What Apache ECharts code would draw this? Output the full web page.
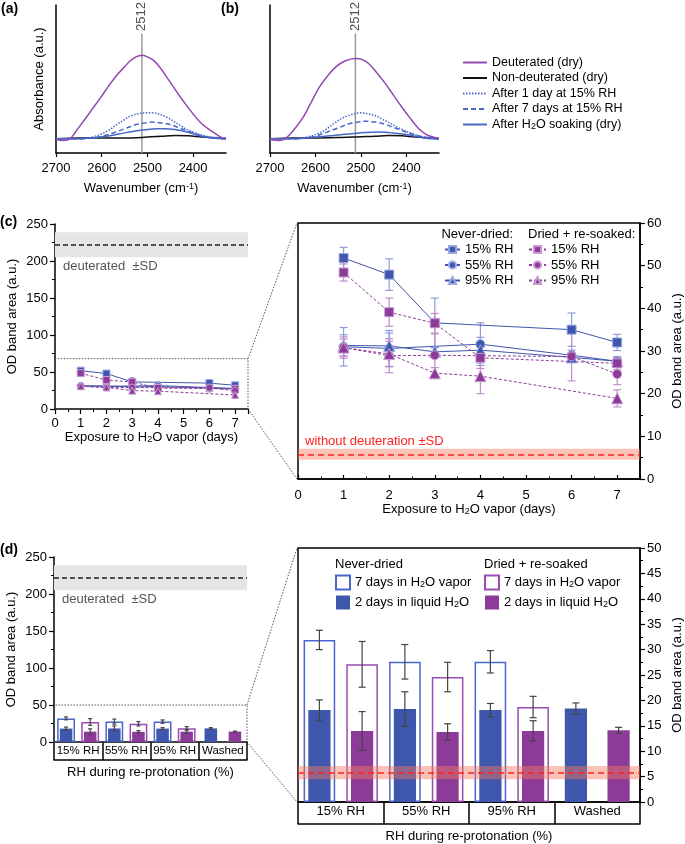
<!DOCTYPE html>
<html>
<head>
<meta charset="utf-8">
<script src="https://cdn.jsdelivr.net/npm/echarts@6/dist/echarts.min.js"></script>
<style>
  html, body { margin: 0; padding: 0; background: #fff; }
  #chart { width: 685px; height: 844px; }
</style>
</head>
<body>
<div id="chart"></div>
<script>
// ---------- data ----------
// (a) / (b) spectra: [wavenumber, absorbance]
const wnTicks = [2400, 2500, 2600, 2700];
const peakWn = 2512;
const peakTop = 1.26;

const deutA = [[2700,-0.01],[2685,-0.02],[2669,0],[2655,0.1],[2640,0.21],[2620,0.36],[2604,0.48],[2585,0.63],[2567,0.76],[2550,0.86],[2538,0.93],[2525,0.98],[2512,1.0],[2500,0.98],[2487,0.94],[2472,0.85],[2458,0.74],[2443,0.62],[2428,0.5],[2413,0.39],[2399,0.29],[2385,0.2],[2370,0.13],[2348,0.05],[2334,0.01],[2328,0.01]];
const nonA = [[2700,0],[2650,0.01],[2600,0.01],[2550,0.01],[2500,0.02],[2470,0.03],[2440,0.04],[2410,0.035],[2380,0.02],[2350,0.01],[2328,0]];
const day1A = [[2700,0],[2660,0],[2630,0.01],[2604,0.05],[2585,0.1],[2567,0.17],[2550,0.23],[2538,0.27],[2520,0.3],[2500,0.31],[2487,0.31],[2472,0.29],[2458,0.26],[2443,0.21],[2428,0.16],[2413,0.11],[2399,0.08],[2385,0.05],[2360,0.02],[2328,0.01]];
const day7A = [[2700,0],[2650,0],[2620,0.01],[2600,0.03],[2575,0.07],[2550,0.12],[2525,0.17],[2505,0.19],[2490,0.2],[2470,0.19],[2450,0.17],[2430,0.13],[2410,0.09],[2390,0.05],[2370,0.02],[2350,0.01],[2328,0]];
const soakA = [[2700,0],[2650,0],[2620,0.01],[2590,0.03],[2560,0.06],[2530,0.09],[2500,0.11],[2480,0.12],[2460,0.12],[2440,0.11],[2420,0.09],[2400,0.06],[2380,0.03],[2360,0.01],[2328,0]];

const deutB = [[2700,-0.01],[2680,-0.02],[2667,0],[2650,0.09],[2628,0.25],[2610,0.43],[2591,0.62],[2572,0.76],[2555,0.86],[2535,0.93],[2512,0.96],[2498,0.95],[2483,0.9],[2465,0.79],[2446,0.66],[2428,0.52],[2410,0.38],[2392,0.25],[2374,0.13],[2356,0.05],[2340,0.02],[2328,0.01]];
const nonB = [[2700,0],[2650,0.01],[2600,0.01],[2550,0.015],[2500,0.025],[2470,0.03],[2440,0.04],[2410,0.035],[2380,0.02],[2350,0.01],[2328,0]];
const day1B = [[2700,0],[2650,0],[2620,0.02],[2600,0.05],[2580,0.1],[2560,0.18],[2540,0.25],[2520,0.29],[2500,0.31],[2485,0.3],[2470,0.28],[2455,0.24],[2440,0.2],[2420,0.14],[2400,0.09],[2380,0.05],[2360,0.02],[2340,0.01],[2328,0]];
const day7B = [[2700,0],[2650,0],[2620,0.01],[2600,0.03],[2575,0.08],[2550,0.13],[2525,0.18],[2505,0.2],[2490,0.21],[2470,0.2],[2450,0.18],[2430,0.14],[2410,0.1],[2390,0.06],[2370,0.03],[2350,0.01],[2328,0]];
const soakB = [[2700,0],[2650,0],[2600,0.02],[2560,0.04],[2520,0.06],[2490,0.075],[2460,0.08],[2430,0.07],[2400,0.05],[2370,0.02],[2345,0],[2328,0]];

// (c) OD band area vs exposure: [day, mean, sd]
const ND15 = [[1,51.8,2.5],[2,47.9,3.7],[3,36.6,5.8],[6,35.0,3.9],[7,32.0,1.9]];
const ND55 = [[1,31.0,4.5],[2,30.6,4.2],[4,31.6,5.0],[6,29.0,1.2],[7,27.6,1.0]];
const ND95 = [[1,31.3,2.5],[2,31.2,3.0],[3,29.8,1.0],[4,30.2,3.0],[6,28.5,1.0],[7,27.6,1.0]];
const DR15 = [[1,48.4,2.0],[2,39.1,3.3],[3,36.5,2.3],[4,28.4,2.5],[7,27.1,1.5]];
const DR55 = [[1,30.8,2.5],[2,28.9,4.0],[3,29.0,5.0],[6,28.7,5.7],[7,24.6,2.5]];
const DR95 = [[1,30.8,2.0],[2,29.3,3.0],[3,24.8,1.3],[4,24.1,4.1],[7,18.9,2.0]];

const deutMean = 222, deutSD = 17;
const noDeutMean = 5.8, noDeutSD = 1.3;
const zoomTopC = 68, zoomTopD = 50;

// (d) bars
const rhCats = ['15% RH', '55% RH', '95% RH', 'Washed'];
const ndVapor = [31.9, 27.6, 27.6, null];
const ndVaporSD = [1.9, 3.4, 2.2, null];
const ndLiquid = [18.1, 18.3, 18.1, 18.4];
const ndLiquidSD = [2.0, 3.4, 1.3, 1.1];
const drVapor = [27.1, 24.6, 18.7, null];
const drVaporSD = [4.5, 2.9, 2.1, null];
const drLiquid = [14.0, 13.8, 14.0, 14.1];
const drLiquidSD = [3.8, 1.6, 2.0, 0.6];

// ---------- styles ----------
const FONT = 'Liberation Sans, Arial, Helvetica, sans-serif';
const SP_PURPLE = '#9447b0', SP_BLUE = '#4766c8';
const BLUE = '#3f56ad', PURPLE = '#8c3c98';
const BLUE_ERR = '#8d9cd8', PURPLE_ERR = '#c08ccb';
const BLUE_OL = '#4a66cc', PURPLE_OL = '#9b4cb2';
const RICH = {
  sub: { fontSize: 9, lineHeight: 10, verticalAlign: 'bottom', fontFamily: FONT },
  sup: { fontSize: 9, lineHeight: 10, verticalAlign: 'top', fontFamily: FONT }
};
const NAME_TS = { fontSize: 13, color: '#000', fontFamily: FONT, rich: RICH };
const AX = { show: true, onZero: false, lineStyle: { color: '#000', width: 1.5 } };
function tick(len, inside) {
  return { show: true, length: len, inside: !!inside, lineStyle: { color: '#000', width: 1.2 } };
}
function minor(len, inside) {
  return { show: true, splitNumber: 2, length: len, inside: !!inside, lineStyle: { color: '#000', width: 1 } };
}

// vertical error bar with caps; off = offset as a fraction of the band width
function vErr(cap, color, off) {
  return function (params, api) {
    var a = api.coord([api.value(0), api.value(1)]);
    var b = api.coord([api.value(0), api.value(2)]);
    var dx = off ? off * api.size([1, 0])[0] : 0;
    var x = a[0] + dx, h = cap / 2;
    var st = { stroke: color, lineWidth: 1.2 };
    return { type: 'group', children: [
      { type: 'line', shape: { x1: x, y1: a[1], x2: x, y2: b[1] }, style: st },
      { type: 'line', shape: { x1: x - h, y1: a[1], x2: x + h, y2: a[1] }, style: st },
      { type: 'line', shape: { x1: x - h, y1: b[1], x2: x + h, y2: b[1] }, style: st }
    ] };
  };
}

var chart = echarts.init(document.getElementById('chart'));

// ---------- grids & axes ----------
var grids = [
  { left: 56, top: 5, width: 170, height: 148 },   // a
  { left: 270, top: 5, width: 169, height: 148 },  // b
  { left: 55, top: 224, width: 193, height: 185 }, // c left
  { left: 298, top: 223, width: 342, height: 256, show: true, borderColor: '#000', borderWidth: 1.5 }, // c right
  { left: 54, top: 557, width: 193, height: 185 }, // d left
  { left: 298, top: 548, width: 342, height: 254, show: true, borderColor: '#000', borderWidth: 1.5 }  // d right
].map(function (g) { g.containLabel = false; g.outerBoundsMode = 'none'; return g; });

function specX(gi) {
  return {
    gridIndex: gi, type: 'value', inverse: true, min: 2328, max: 2700,
    axisLine: AX,
    axisTick: { show: true, length: 4, customValues: wnTicks, lineStyle: { color: '#000', width: 1.2 } },
    axisLabel: { customValues: wnTicks, fontSize: 13, color: '#000', margin: 9,
      formatter: function (v) { return String(v); } },
    splitLine: { show: false },
    name: 'Wavenumber (cm{sup|-1})', nameLocation: 'middle', nameGap: 29,
    nameTextStyle: NAME_TS, nameMoveOverlap: false
  };
}
function specY(gi, name) {
  return {
    gridIndex: gi, type: 'value', min: -0.17, max: 1.6,
    axisLine: AX, axisTick: { show: false }, axisLabel: { show: false }, splitLine: { show: false },
    name: name, nameLocation: 'middle', nameGap: 10, nameTextStyle: NAME_TS, nameMoveOverlap: false
  };
}
function dayX(gi, inside, margin, gap) {
  return {
    gridIndex: gi, type: 'value', min: 0, max: 7.5, interval: 1,
    axisLine: AX, axisTick: tick(inside ? 4 : 5, inside), minorTick: minor(inside ? 2.5 : 3, inside),
    axisLabel: { fontSize: 13, color: '#000', margin: margin, showMaxLabel: false },
    splitLine: { show: false }, minorSplitLine: { show: false },
    name: 'Exposure to H{sub|2}O vapor (days)', nameLocation: 'middle', nameGap: gap,
    nameTextStyle: NAME_TS, nameMoveOverlap: false
  };
}
function odY(gi, max, interval, right, gap) {
  return {
    gridIndex: gi, type: 'value', min: 0, max: max, interval: interval, position: right ? 'right' : 'left',
    axisLine: AX, axisTick: tick(5), minorTick: minor(3),
    axisLabel: { fontSize: 13, color: '#000', margin: 7 },
    splitLine: { show: false }, minorSplitLine: { show: false },
    name: 'OD band area (a.u.)', nameLocation: 'middle', nameGap: gap, nameRotate: 90,
    nameTextStyle: NAME_TS, nameMoveOverlap: false
  };
}
function catX(gi, boxH, fs, main) {
  if (main) {
    return {
      gridIndex: gi, type: 'category', data: rhCats, position: 'bottom',
      axisLine: AX,
      axisTick: { show: true, interval: 0, length: boxH, lineStyle: { color: '#000', width: 1.5 } },
      axisLabel: { interval: 0, fontSize: fs, color: '#000', margin: 3 },
      splitLine: { show: false }
    };
  }
  return {
    gridIndex: gi, type: 'category', data: rhCats, position: 'bottom', offset: boxH,
    axisLine: AX, axisTick: { show: false }, axisLabel: { show: false },
    name: 'RH during re-protonation (%)', nameLocation: 'middle', nameGap: 6,
    nameTextStyle: NAME_TS, nameMoveOverlap: false
  };
}

var xAxes = [specX(0), specX(1), dayX(2, false, 8, 22), dayX(3, true, 10, 24),
  catX(4, 18, 11.5, true), catX(4, 18, 11.5, false), catX(5, 22, 13, true), catX(5, 22, 13, false)];
var yAxes = [specY(0, 'Absorbance (a.u.)'), specY(1, ''), odY(2, 250, 50, false, 36),
  odY(3, 60, 10, true, 31), odY(4, 250, 50, false, 36), odY(5, 50, 5, true, 31)];

// ---------- series ----------
var series = [];

function specLine(name, data, gi, color, dash) {
  return {
    type: 'line', name: name, xAxisIndex: gi, yAxisIndex: gi, data: data,
    smooth: 0.35, symbol: 'none', showSymbol: false, silent: true,
    lineStyle: { color: color, width: 1.5, type: dash }, itemStyle: { color: color }
  };
}
[[0, deutA, nonA, day1A, day7A, soakA], [1, deutB, nonB, day1B, day7B, soakB]].forEach(function (p) {
  var gi = p[0];
  series.push({
    type: 'line', xAxisIndex: gi, yAxisIndex: gi, data: [[peakWn, -0.17], [peakWn, peakTop]],
    symbol: 'none', silent: true, lineStyle: { color: '#9a9a9a', width: 1.5 }, z: 1
  });
  series.push({
    type: 'scatter', xAxisIndex: gi, yAxisIndex: gi, data: [[peakWn, peakTop]], symbolSize: 1,
    itemStyle: { color: 'rgba(0,0,0,0)' }, silent: true,
    label: { show: true, formatter: String(peakWn), rotate: 90, position: 'top', distance: 2,
      align: 'left', verticalAlign: 'middle', fontSize: 13, color: '#222' }
  });
  series.push(specLine('Non-deuterated (dry)', p[2], gi, '#111', 'solid'));
  series.push(specLine('After H2O soaking (dry)', p[5], gi, SP_BLUE, 'solid'));
  series.push(specLine('After 7 days at 15% RH', p[4], gi, SP_BLUE, [5, 3]));
  series.push(specLine('After 1 day at 15% RH', p[3], gi, SP_BLUE, [1.5, 1.5]));
  series.push(specLine('Deuterated (dry)', p[1], gi, SP_PURPLE, 'solid'));
});

var cGroups = [
  { name: 'Never-dried 15% RH', data: ND15, symbol: 'rect', dr: false },
  { name: 'Never-dried 55% RH', data: ND55, symbol: 'circle', dr: false },
  { name: 'Never-dried 95% RH', data: ND95, symbol: 'triangle', dr: false },
  { name: 'Dried 15% RH', data: DR15, symbol: 'rect', dr: true },
  { name: 'Dried 55% RH', data: DR55, symbol: 'circle', dr: true },
  { name: 'Dried 95% RH', data: DR95, symbol: 'triangle', dr: true }
];
[3, 2].forEach(function (gi) {
  var big = gi === 3;
  cGroups.forEach(function (g) {
    var col = g.dr ? PURPLE : BLUE;
    series.push({
      type: 'custom', xAxisIndex: gi, yAxisIndex: gi, silent: true, z: 2,
      data: g.data.map(function (d) { return [d[0], d[1] - d[2], d[1] + d[2]]; }),
      encode: { x: 0, y: [1, 2] },
      renderItem: vErr(big ? 8 : 4, g.dr ? PURPLE_ERR : BLUE_ERR, 0)
    });
    series.push({
      type: 'line', name: big ? g.name : undefined, xAxisIndex: gi, yAxisIndex: gi, z: 3, silent: true,
      data: g.data.map(function (d) { return [d[0], d[1]]; }),
      symbol: g.symbol, symbolSize: big ? (g.symbol === 'triangle' ? 11 : 9) : 7,
      lineStyle: { color: col, width: 1, type: g.dr ? [3, 2] : 'solid' },
      itemStyle: { color: col, borderColor: g.dr ? '#c99bd2' : '#9aa8e2', borderWidth: 1 }
    });
  });
});

// bands: deuterated (grey) on the overview panels, without deuteration (red) on the zooms
function greyBand(xi, yi, zoomTop) {
  return {
    type: 'line', xAxisIndex: xi, yAxisIndex: yi, data: [], silent: true,
    markArea: {
      silent: true, z: 1,
      data: [
        [{ yAxis: deutMean - deutSD, itemStyle: { color: '#e5e5e5' },
           label: { show: true, formatter: 'deuterated  \u00b1SD', position: [8, '100%'], align: 'left',
             verticalAlign: 'top', padding: [3, 0, 0, 0], fontSize: 13, color: '#555', fontFamily: FONT } },
         { yAxis: deutMean + deutSD }],
        [{ yAxis: 0, itemStyle: { color: 'rgba(0,0,0,0)', borderColor: '#555', borderWidth: 1, borderType: [1.5, 1.5] },
           label: { show: false } },
         { yAxis: zoomTop }]
      ]
    },
    markLine: {
      silent: true, symbol: ['none', 'none'], label: { show: false },
      lineStyle: { color: '#222', type: [5, 3], width: 1.5 },
      data: [{ yAxis: deutMean }]
    }
  };
}
function redBand(xi, yi, withLabel, z) {
  return {
    type: 'line', xAxisIndex: xi, yAxisIndex: yi, data: [], silent: true, z: z,
    markArea: {
      silent: true, z: z,
      data: [[{ yAxis: noDeutMean - noDeutSD, itemStyle: { color: 'rgba(246,120,95,0.45)' },
        label: { show: withLabel, formatter: 'without deuteration \u00b1SD', position: [7, 0], align: 'left',
          verticalAlign: 'bottom', padding: [0, 0, 1, 0], fontSize: 13, color: '#f22', fontFamily: FONT } },
        { yAxis: noDeutMean + noDeutSD }]]
    },
    markLine: {
      silent: true, z: z + 1, symbol: ['none', 'none'], label: { show: false },
      lineStyle: { color: '#ff2222', type: [6, 4], width: 1.6 },
      data: [{ yAxis: noDeutMean }]
    }
  };
}
series.push(greyBand(2, 2, zoomTopC));
series.push(greyBand(4, 4, zoomTopD));
series.push(redBand(3, 3, true, 1));

// (d) bars
function errData(vals, sds) {
  var out = [];
  vals.forEach(function (v, i) { if (v != null) out.push([i, v - sds[i], v + sds[i]]); });
  return out;
}
[[4, 5, 4, false], [6, 7, 5, true]].forEach(function (p) {
  var xm = p[0], xs = p[1], yi = p[2], big = p[3];
  var vapor = { barWidth: '37%', barGap: '35%' }, liquid = { barWidth: '26%', barGap: '92%' };
  function bar(name, data, xi, opt, style) {
    return Object.assign({ type: 'bar', name: big ? name : undefined, xAxisIndex: xi, yAxisIndex: yi,
      data: data, silent: true, itemStyle: style }, opt);
  }
  series.push(bar('ND vapor', ndVapor, xm, vapor, { color: '#fff', borderColor: BLUE_OL, borderWidth: 1.5 }));
  series.push(bar('DR vapor', drVapor, xm, vapor, { color: '#fff', borderColor: PURPLE_OL, borderWidth: 1.5 }));
  series.push(bar('ND liquid', ndLiquid, xs, liquid, { color: BLUE }));
  series.push(bar('DR liquid', drLiquid, xs, liquid, { color: PURPLE }));
  series.push({ type: 'custom', xAxisIndex: xm, yAxisIndex: yi, z: 4, silent: true,
    data: errData(ndVapor, ndVaporSD).concat(errData(ndLiquid, ndLiquidSD)),
    encode: { x: 0, y: [1, 2] }, renderItem: vErr(big ? 7 : 4, '#444', -0.25) });
  series.push({ type: 'custom', xAxisIndex: xm, yAxisIndex: yi, z: 4, silent: true,
    data: errData(drVapor, drVaporSD).concat(errData(drLiquid, drLiquidSD)),
    encode: { x: 0, y: [1, 2] }, renderItem: vErr(big ? 7 : 4, '#444', 0.25) });
});
series.push(redBand(6, 5, false, 6));

// ---------- legends ----------
var dNames = {
  'ND vapor': '7 days in H{sub|2}O vapor', 'DR vapor': '7 days in H{sub|2}O vapor',
  'ND liquid': '2 days in liquid H{sub|2}O', 'DR liquid': '2 days in liquid H{sub|2}O'
};
var legTS = { fontSize: 13, color: '#000', fontFamily: FONT, rich: RICH };
var legends = [
  { left: 462, top: 56, padding: 0, orient: 'vertical', itemWidth: 24, itemHeight: 10, itemGap: 2.5,
    selectedMode: false, textStyle: Object.assign({}, legTS, { fontSize: 12.5 }),
    itemStyle: { opacity: 0 },
    data: ['Deuterated (dry)', 'Non-deuterated (dry)', 'After 1 day at 15% RH', 'After 7 days at 15% RH', 'After H2O soaking (dry)'],
    formatter: function (n) { return n.replace('H2O', 'H{sub|2}O'); } },
  { left: 444, top: 243, padding: 0, orient: 'vertical', itemWidth: 15, itemHeight: 9, itemGap: 2.5,
    selectedMode: false, textStyle: legTS,
    data: ['Never-dried 15% RH', 'Never-dried 55% RH', 'Never-dried 95% RH'],
    formatter: function (n) { return n.replace(/^.* (\d+% RH)$/, '$1'); } },
  { left: 528, top: 243, padding: 0, orient: 'vertical', itemWidth: 17, itemHeight: 9, itemGap: 2.5,
    selectedMode: false, textStyle: legTS,
    data: ['Dried 15% RH', 'Dried 55% RH', 'Dried 95% RH'],
    formatter: function (n) { return n.replace(/^.* (\d+% RH)$/, '$1'); } },
  { left: 335, top: 574.5, padding: 0, orient: 'vertical', itemWidth: 14, itemHeight: 14, itemGap: 5,
    icon: 'rect', selectedMode: false, textStyle: legTS,
    data: ['ND vapor', 'ND liquid'], formatter: function (n) { return dNames[n]; } },
  { left: 484, top: 574.5, padding: 0, orient: 'vertical', itemWidth: 14, itemHeight: 14, itemGap: 5,
    icon: 'rect', selectedMode: false, textStyle: legTS,
    data: ['DR vapor', 'DR liquid'], formatter: function (n) { return dNames[n]; } }
];

function txt(id, x, y, s, opt) {
  return { type: 'text', id: id, x: x, y: y, silent: true,
    style: Object.assign({ text: s, fontSize: 13, fontFamily: FONT, fill: '#000', verticalAlign: 'middle' }, opt || {}) };
}
var texts = [
  txt('la', 1, 9, '(a)', { fontWeight: 'bold', fontSize: 14 }),
  txt('lb', 221, 9, '(b)', { fontWeight: 'bold', fontSize: 14 }),
  txt('lc', 0, 222, '(c)', { fontWeight: 'bold', fontSize: 14 }),
  txt('ld', 0, 550, '(d)', { fontWeight: 'bold', fontSize: 14 }),
  txt('hc1', 513, 234, 'Never-dried:', { align: 'right' }),
  txt('hc2', 528, 234, 'Dried + re-soaked:', { align: 'left' }),
  txt('hd1', 335, 564, 'Never-dried', { align: 'left' }),
  txt('hd2', 484, 564, 'Dried + re-soaked', { align: 'left' })
];

chart.setOption({
  animation: false,
  backgroundColor: '#fff',
  textStyle: { fontFamily: FONT },
  grid: grids,
  xAxis: xAxes,
  yAxis: yAxes,
  legend: legends,
  series: series,
  graphic: texts
});

// dotted connectors between the overview panels and their zooms
function px(xi, yi, v) { return chart.convertToPixel({ xAxisIndex: xi, yAxisIndex: yi }, v); }
var cTop = px(2, 2, [7.5, zoomTopC]), cBot = px(2, 2, [7.5, 0]);
var rTop = px(3, 3, [0, 60]), rBot = px(3, 3, [0, 0]);
var dRightEdge = grids[4].left + grids[4].width, dZoomLeft = grids[5].left;
var dTopY = chart.convertToPixel({ yAxisIndex: 4 }, zoomTopD), dBotY = chart.convertToPixel({ yAxisIndex: 4 }, 0);
var rdTopY = chart.convertToPixel({ yAxisIndex: 5 }, 50), rdBotY = chart.convertToPixel({ yAxisIndex: 5 }, 0);
function conn(id, a, b) {
  return { type: 'line', id: id, silent: true, shape: { x1: a[0], y1: a[1], x2: b[0], y2: b[1] },
    style: { stroke: '#555', lineWidth: 1, lineDash: [1.5, 1.5] } };
}
chart.setOption({
  graphic: texts.concat([
    conn('c1', cTop, [rTop[0] - 1, rTop[1]]),
    conn('c2', cBot, [rBot[0] - 1, rBot[1]]),
    conn('d1', [dRightEdge, dTopY], [dZoomLeft - 1, rdTopY]),
    conn('d2', [dRightEdge, dBotY], [dZoomLeft - 1, rdBotY])
  ])
});
</script>
</body>
</html>
